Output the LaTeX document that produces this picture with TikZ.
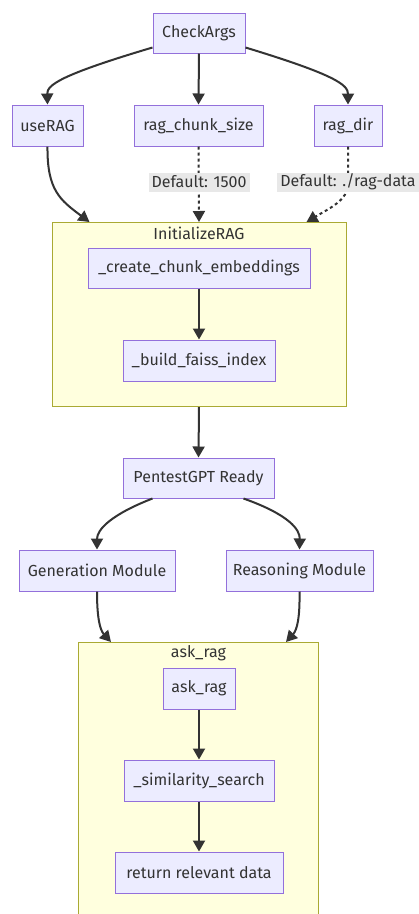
\documentclass[tikz,border=0pt]{standalone}
\usepackage{fontspec}
\setmainfont{Fira Sans}
\usetikzlibrary{arrows.meta}
\definecolor{nodefill}{HTML}{ECECFF}
\definecolor{nodeline}{HTML}{9370DB}
\definecolor{clfill}{HTML}{FFFFDE}
\definecolor{clline}{HTML}{AAAA33}
\definecolor{edgec}{HTML}{333333}
\definecolor{txt}{HTML}{333333}
\definecolor{lblbg}{HTML}{E8E8E8}
\tikzset{
  box/.style={draw=nodeline, fill=nodefill, line width=1pt, minimum height=41pt,
    inner sep=0pt, text=txt, font=\fontsize{16}{18}\selectfont},
  cluster/.style={draw=clline, fill=clfill, line width=1pt, inner sep=0pt},
  cltitle/.style={text=txt, font=\fontsize{16}{18}\selectfont, inner sep=0pt},
  elabel/.style={fill=lblbg, text=txt, font=\fontsize{16}{18}\selectfont, inner sep=0pt,
    minimum height=19pt},
  edge/.style={draw=edgec, line width=2pt, -{Triangle[length=11pt,width=12pt]}},
  dedge/.style={edge, dash pattern=on 3pt off 3pt},
}
\begin{document}
\begin{tikzpicture}[x=1pt,y=-1pt]
\path[use as bounding box, clip] (0,0) rectangle (419,914);
\fill[white] (0,0) rectangle (419,914);
% clusters
\node[cluster, minimum width=294pt, minimum height=184pt, anchor=north] (init) at (199,222) {};
\node[cltitle] (initt) at (199,233) {InitializeRAG};
\node[cluster, minimum width=240pt, minimum height=300pt, anchor=north] (ask) at (198.5,642) {};
\node[cltitle] (askt) at (198.5,653) {ask\_rag};
% nodes
\node[box, minimum width=92pt, minimum height=40pt] (chk) at (199,33) {CheckArgs};
\node[box, minimum width=71pt] (use) at (47.5,125.5) {useRAG};
\node[box, minimum width=129pt] (chunk) at (198.5,125.5) {rag\_chunk\_size};
\node[box, minimum width=68pt] (dir) at (348,125.5) {rag\_dir};
\node[box, minimum width=222pt, minimum height=40pt] (create) at (199,268) {\_create\_chunk\_embeddings};
\node[box, minimum width=152pt] (build) at (199,360.5) {\_build\_faiss\_index};
\node[box, minimum width=151pt, minimum height=40pt] (ready) at (198.5,478) {PentestGPT Ready};
\node[box, minimum width=156pt] (gen) at (97,570.5) {Generation Module};
\node[box, minimum width=147pt] (reas) at (299.5,570.5) {Reasoning Module};
\node[box, minimum width=72pt] (askn) at (199,688.5) {ask\_rag};
\node[box, minimum width=150pt] (sim) at (199,780.5) {\_similarity\_search};
\node[box, minimum width=168pt] (ret) at (199,872.5) {return relevant data};
% edges
\draw[edge] ([yshift=6pt]chk.south west) .. controls (60,75) and (47,85) .. (use.north);
\draw[edge] (chk.south) -- (chunk.north);
\draw[edge] ([yshift=6pt]chk.south east) .. controls (336,75) and (348,85) .. (dir.north);
\draw[edge] (use.south) .. controls (47,190) and (60,200) .. ([xshift=38pt]init.north west);
\draw[dedge] (chunk.south) -- (init.north);
\draw[dedge] (dir.south) -- (348,184) .. controls (348,200) and (330,208) .. ([xshift=-40pt]init.north east);
\node[elabel, minimum width=101pt] (l1) at (199,182) {Default: 1500};
\node[elabel, minimum width=142pt] (l2) at (348,182) {Default: ./rag-data};
\draw[edge] (create.south) -- (build.north);
\draw[edge] (init.south) -- (ready.north);
\draw[edge] ([xshift=30pt]ready.south west) .. controls (110,515) and (97,530) .. (gen.north);
\draw[edge] ([xshift=-31pt]ready.south east) .. controls (290,515) and (300,530) .. (reas.north);
\draw[edge] (gen.south) .. controls (97,618) and (100,630) .. ([xshift=33pt]ask.north west);
\draw[edge] (reas.south) .. controls (300,618) and (297,630) .. ([xshift=-33pt]ask.north east);
\draw[edge] (askn.south) -- (sim.north);
\draw[edge] (sim.south) -- (ret.north);
\end{tikzpicture}
\end{document}
